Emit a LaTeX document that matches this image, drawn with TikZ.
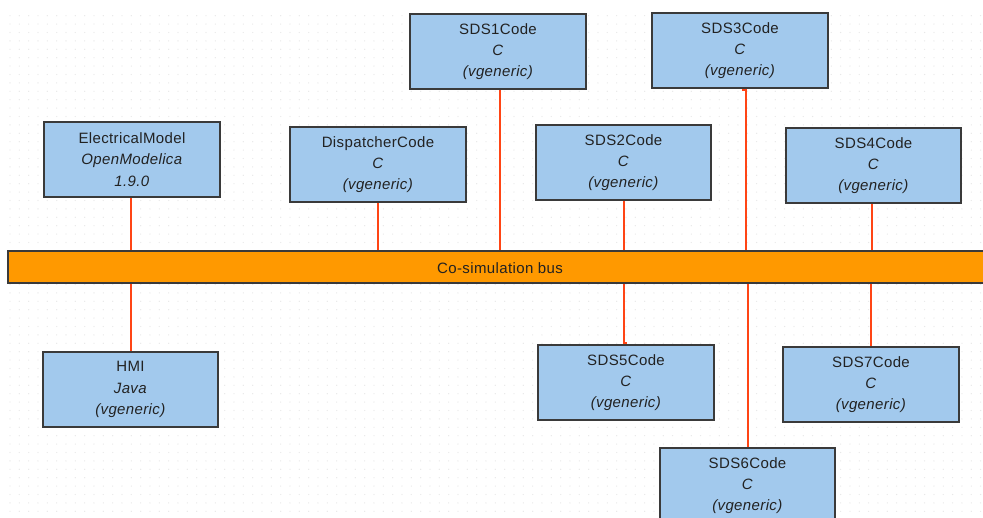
\documentclass[tikz,border=0pt]{standalone}
\usepackage{fontspec}
\setmainfont{Liberation Sans}[LetterSpace=2.5]
\definecolor{boxfill}{HTML}{A2C9ED}
\definecolor{boxline}{HTML}{3A3A3A}
\definecolor{busfill}{HTML}{FF9900}
\definecolor{connc}{HTML}{FF4515}
\definecolor{gridc}{HTML}{E8E8E8}
\definecolor{txtc}{HTML}{222222}
\begin{document}
\begin{tikzpicture}[x=1pt,y=-1pt,
  comp/.style={draw=boxline, line width=1.2pt, fill=boxfill, minimum width=175pt, minimum height=74pt,
    inner sep=0pt, align=center, text=txtc, font=\fontsize{15}{21.3}\selectfont},
  busbox/.style={draw=boxline, line width=1.2pt, fill=busfill, minimum width=987pt, minimum height=32pt,
    inner sep=0pt, text=txtc},
  conn/.style={draw=connc, line width=1.8pt}]
\clip (0,0) rectangle (983,518);
\fill[white] (0,0) rectangle (983,518);
% dotted grid
\foreach \i in {0,...,105}{
  \foreach \j in {0,...,60}{
    \fill[gridc] ({10+\i*9.333},{15.7+\j*8.4}) circle (0.65pt);
  }
}
% bus
\node[busbox] (bus) at (501.5,267) {};
\node[text=txtc, font=\fontsize{15}{17}\selectfont, inner sep=0pt] (buslabel) at (500,268) {Co-simulation bus};
% components
\node[comp] (em) at (132,159.5) {ElectricalModel\\\textit{OpenModelica}\\\textit{1.9.0}};
\node[comp] (hmi) at (130.5,389.5) {HMI\\\textit{Java}\\\textit{(vgeneric)}};
\node[comp] (disp) at (378,164.5) {DispatcherCode\\\textit{C}\\\textit{(vgeneric)}};
\node[comp] (sds1) at (498,51.5) {SDS1Code\\\textit{C}\\\textit{(vgeneric)}};
\node[comp] (sds2) at (623.5,162.5) {SDS2Code\\\textit{C}\\\textit{(vgeneric)}};
\node[comp] (sds3) at (740,50.5) {SDS3Code\\\textit{C}\\\textit{(vgeneric)}};
\node[comp] (sds4) at (873.5,165.5) {SDS4Code\\\textit{C}\\\textit{(vgeneric)}};
\node[comp] (sds5) at (626,382.5) {SDS5Code\\\textit{C}\\\textit{(vgeneric)}};
\node[comp] (sds7) at (871,384.5) {SDS7Code\\\textit{C}\\\textit{(vgeneric)}};
\node[comp] (sds6) at (747.5,485.5) {SDS6Code\\\textit{C}\\\textit{(vgeneric)}};
% connectors
\draw[conn] ([xshift=-1pt]em.south) -- ([xshift=-1pt]em.south |- bus.north);
\draw[conn] ([xshift=0.5pt]hmi.north) -- ([xshift=0.5pt]hmi.north |- bus.south);
\draw[conn] (disp.south) -- (disp.south |- bus.north);
\draw[conn] ([xshift=2pt]sds1.south) -- ([xshift=2pt]sds1.south |- bus.north);
\draw[conn] ([xshift=0.5pt]sds2.south) -- ([xshift=0.5pt]sds2.south |- bus.north);
\draw[conn] ([xshift=3pt]sds3.south) -- ([xshift=3pt,yshift=-2pt]sds3.south) -- ([xshift=6pt,yshift=-2pt]sds3.south) -- ([xshift=6pt]sds3.south |- bus.north);
\draw[conn] ([xshift=-1.5pt]sds4.south) -- ([xshift=-1.5pt]sds4.south |- bus.north);
\draw[conn] ([xshift=-2pt]sds5.north |- bus.south) -- ([xshift=-2pt,yshift=2pt]sds5.north) -- ([yshift=2pt]sds5.north) -- (sds5.north);
\draw[conn] ([xshift=0.5pt]sds6.north |- bus.south) -- ([xshift=0.5pt]sds6.north);
\draw[conn] (sds7.north |- bus.south) -- (sds7.north);
% redraw borders over connector ends
\foreach \n in {em,hmi,disp,sds1,sds2,sds3,sds4,sds5,sds6,sds7}{
  \draw[boxline, line width=1.2pt] (\n.north west) rectangle (\n.south east);
}
\draw[boxline, line width=1.2pt] (bus.north west) -- (bus.north east);
\draw[boxline, line width=1.2pt] (bus.south west) -- (bus.south east);
\draw[boxline, line width=1.2pt] (bus.north west) -- (bus.south west);
\end{tikzpicture}
\end{document}
